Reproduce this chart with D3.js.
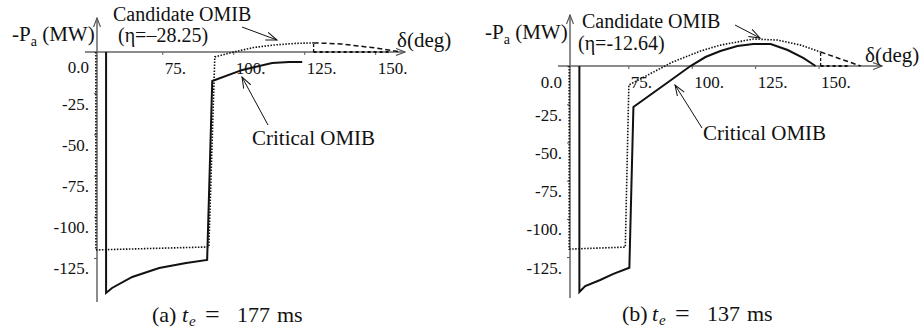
<!DOCTYPE html>
<html><head><meta charset="utf-8">
<script src="https://cdn.jsdelivr.net/npm/d3@7"></script>
<style>
  body { margin: 0; background: #fff; }
  svg text { font-family: "Liberation Serif", "Times New Roman", serif; fill: #111; }
</style>
</head><body>
<svg id="chart" width="922" height="329"></svg>
<script>
// tick values / labels shared by both panels
const xTicks = [75, 100, 125, 150];
const xTickLabels = ["75.", "100.", "125.", "150."];
const yTicks = [0, -25, -50, -75, -100, -125];
const yTickLabels = ["0.0", "-25.", "-50.", "-75.", "-100.", "-125."];

// panel (a), te = 177 ms
const critA_delta = [55.2, 55.2, 57.3, 64.4, 73.9, 83.4, 90.8, 92.6, 103.2, 113.7, 119.7, 124.3];
const critA_pa    = [0, -146.2, -143.2, -136.5, -131.1, -128.0, -126.2, -17.6, -10.9, -6.7, -6.1, -6.1];
const candA_delta = [51.6, 51.6, 91.4, 93.5, 100.2, 107.2, 114.2, 121.9, 128.3];
const candA_pa    = [0, -120.1, -118.3, -3.0, 0, 2.7, 4.2, 5.2, 5.5];
const extA_delta  = [128.3, 137.8, 150.1, 158.9];
const extA_pa     = [5.5, 4.9, 2.4, 0];

// panel (b), te = 137 ms
const critB_delta = [55.7, 55.7, 58.0, 63.9, 69.1, 75.4, 77.0, 92.4, 99.5, 105.4, 111.3, 118.0, 124.3, 131.1, 137.8, 144.1, 148.8];
const critB_pa    = [0, -147.9, -144, -140, -136, -132, -26.8, -8.5, 0, 5.9, 9.8, 13.1, 14.4, 14.4, 10.5, 5.2, 0];
const candB_delta = [51.7, 51.7, 73.8, 75.2, 92.4, 103.4, 111.3, 124.3, 133.8, 142.9, 150.8];
const candB_pa    = [0, -119.8, -118.5, -12.4, 2.6, 9.8, 13.7, 17.7, 17.0, 13.7, 9.2];
const extB_delta  = [150.8, 158.7, 166.6];
const extB_pa     = [9.2, 4.6, 0];

const zip = (a, b) => a.map((v, i) => [v, b[i]]);

const svg = d3.select("#chart");
const defs = svg.append("defs");
defs.append("marker").attr("id", "head").attr("viewBox", "0 0 12 10")
  .attr("refX", 11).attr("refY", 5).attr("markerWidth", 12).attr("markerHeight", 10)
  .attr("markerUnits", "userSpaceOnUse").attr("orient", "auto")
  .append("path").attr("d", "M0,1 L11,5 L0,9").attr("fill", "none").attr("stroke", "#111").attr("stroke-width", 1);
defs.append("marker").attr("id", "axhead").attr("viewBox", "0 0 10 8")
  .attr("refX", 9).attr("refY", 4).attr("markerWidth", 10).attr("markerHeight", 8)
  .attr("markerUnits", "userSpaceOnUse").attr("orient", "auto")
  .append("path").attr("d", "M0,0.5 L9,4 L0,7.5").attr("fill", "none").attr("stroke", "#555").attr("stroke-width", 1.2);

function drawPanel(p) {
  const x = d3.scaleLinear().domain(p.xDomain).range(p.xRange);
  const y = d3.scaleLinear().domain(p.yDomain).range(p.yRange);
  const g = svg.append("g");
  const line = d3.line().x(d => x(d[0])).y(d => y(d[1]));

  // axes
  const xa = g.append("g").attr("transform", `translate(0,${y(0)})`)
    .call(d3.axisBottom(x).tickValues(xTicks).tickSize(3).tickFormat((d, i) => xTickLabels[i]));
  xa.select(".domain").remove();
  xa.selectAll("line").attr("stroke", "#555");
  xa.selectAll("text").attr("text-anchor", "start").attr("x", 2).attr("y", 22).attr("dy", 0)
    .style("font-size", "17px").style("font-family", "Liberation Serif");

  const ya = g.append("g").attr("transform", `translate(${x(p.xDomain[0])},0)`)
    .call(d3.axisLeft(y).tickValues(yTicks).tickSize(3).tickFormat((d, i) => yTickLabels[i]));
  ya.select(".domain").remove();
  ya.selectAll("line").attr("stroke", "#555");
  ya.selectAll("text").attr("x", -8).attr("dy", 0).attr("y", d => d === 0 ? 21 : 16)
    .style("font-size", "17px").style("font-family", "Liberation Serif");

  g.append("line").attr("x1", x(p.xDomain[0]) - 12).attr("x2", x(p.xDomain[1]))
    .attr("y1", y(0)).attr("y2", y(0)).attr("stroke", "#666").attr("stroke-width", 1.5)
    .attr("marker-end", "url(#axhead)");
  g.append("line").attr("x1", x(p.xDomain[0])).attr("x2", x(p.xDomain[0]))
    .attr("y1", y(p.yDomain[1])).attr("y2", y(p.yDomain[0]))
    .attr("stroke", "#666").attr("stroke-width", 1.5).attr("marker-end", "url(#axhead)");

  // curves
  g.append("path").attr("d", line(p.cand)).attr("fill", "none")
    .attr("stroke", "#111").attr("stroke-width", 1.6).attr("stroke-dasharray", "1.5,1.5");
  g.append("path").attr("d", line(p.ext)).attr("fill", "none")
    .attr("stroke", "#111").attr("stroke-width", 1.5).attr("stroke-dasharray", "5,3");
  const e0 = p.ext[0];
  g.append("path").attr("d", line([[e0[0], 0], [e0[0], e0[1]]])).attr("fill", "none")
    .attr("stroke", "#111").attr("stroke-width", 1.3).attr("stroke-dasharray", "3,2");
  g.append("path").attr("d", line([[e0[0], 0], [p.ext[p.ext.length - 1][0] - 4, 0]])).attr("fill", "none")
    .attr("stroke", "#111").attr("stroke-width", 2).attr("stroke-dasharray", "3,3");
  g.append("path").attr("d", line(p.crit)).attr("fill", "none")
    .attr("stroke", "#111").attr("stroke-width", 2);

  // labels
  const yl = g.append("text").attr("x", p.ylab[0]).attr("y", p.ylab[1]).style("font-size", "21px");
  yl.append("tspan").text("-P");
  yl.append("tspan").text("a").attr("dy", 5).style("font-size", "14px");
  yl.append("tspan").text(" (MW)").attr("dy", -5);
  g.append("text").attr("x", p.xlab[0]).attr("y", p.xlab[1]).style("font-size", "21px").text("δ(deg)");
  g.append("text").attr("x", p.candLab[0]).attr("y", p.candLab[1]).style("font-size", "20px").text("Candidate OMIB");
  g.append("text").attr("x", p.etaLab[0]).attr("y", p.etaLab[1]).style("font-size", "20px").text(p.eta);
  g.append("text").attr("x", p.critLab[0]).attr("y", p.critLab[1]).style("font-size", "21px").text("Critical OMIB");

  p.arrows.forEach(a => {
    g.append("line").attr("x1", a[0]).attr("y1", a[1]).attr("x2", a[2]).attr("y2", a[3])
      .attr("stroke", "#111").attr("stroke-width", 1).attr("marker-end", "url(#head)");
  });

  // caption
  const c = p.cap;
  const cap = g.append("g").style("font-size", "22px");
  cap.append("text").attr("x", c[0]).attr("y", c[1]).text(p.capLetter);
  cap.append("text").attr("x", c[0] + 30).attr("y", c[1]).style("font-style", "italic").text("t");
  cap.append("text").attr("x", c[0] + 37).attr("y", c[1] + 4).style("font-style", "italic").style("font-size", "15px").text("e");
  cap.append("text").attr("x", c[0] + 53).attr("y", c[1] + 1).style("font-size", "26px").text("=");
  cap.append("text").attr("x", c[0] + 85).attr("y", c[1]).text(p.capNum);
  cap.append("text").attr("x", c[0] + 125).attr("y", c[1]).text("ms");
}

drawPanel({
  xDomain: [52, 160.5], xRange: [97, 405],
  yDomain: [20.6, -151.7], yRange: [18, 302],
  crit: zip(critA_delta, critA_pa), cand: zip(candA_delta, candA_pa), ext: zip(extA_delta, extA_pa),
  ylab: [12, 41], xlab: [397, 47], candLab: [113, 21], etaLab: [118, 42], critLab: [252, 145],
  eta: "(η=–28.25)",
  arrows: [[242, 27, 277, 40], [268, 125, 242, 77]],
  cap: [152, 322], capLetter: "(a)", capNum: "177"
});

drawPanel({
  xDomain: [52, 175], xRange: [570, 882],
  yDomain: [33.4, -151.8], yRange: [15, 298],
  crit: zip(critB_delta, critB_pa), cand: zip(candB_delta, candB_pa), ext: zip(extB_delta, extB_pa),
  ylab: [485, 39], xlab: [865, 62], candLab: [582, 28], etaLab: [578, 50], critLab: [703, 140],
  eta: "(η=-12.64)",
  arrows: [[735, 25, 760, 38], [702, 128, 675, 85]],
  cap: [622, 321], capLetter: "(b)", capNum: "137"
});
</script>
</body></html>
